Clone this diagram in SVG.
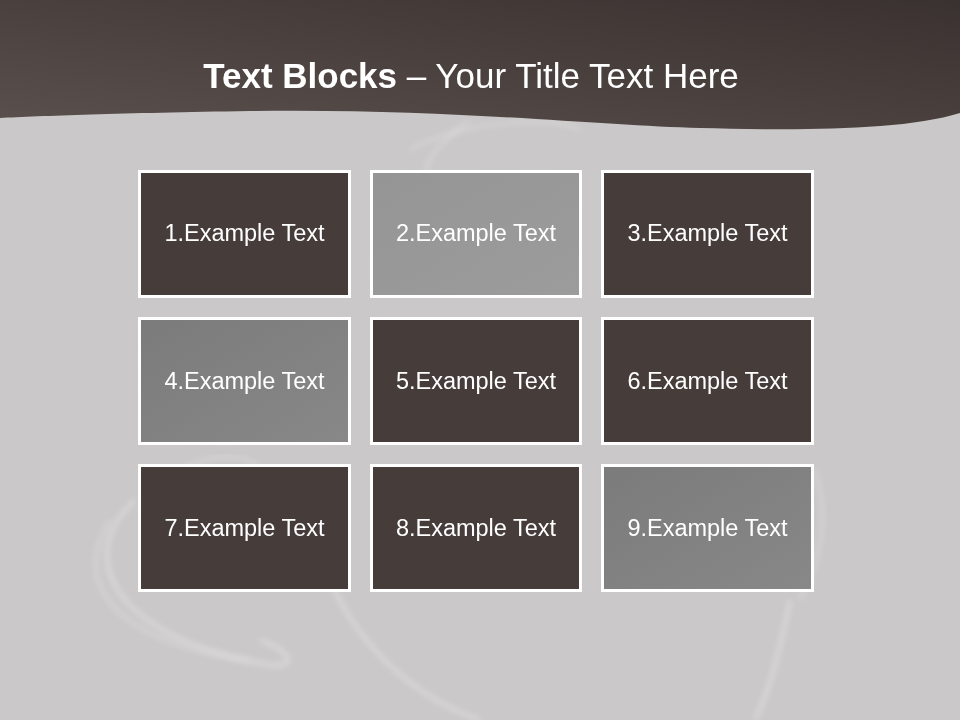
<svg xmlns="http://www.w3.org/2000/svg" width="960" height="720" viewBox="0 0 960 720">
  <style>
    .box { stroke: #ffffff; stroke-width: 3; }
    .dark { fill: #463d3b; }
    .lbl { font-family: "Liberation Sans", Arial, sans-serif; font-size: 23.5px; fill: #ffffff; text-anchor: middle; }
    .title { font-family: "Liberation Sans", Arial, sans-serif; font-size: 35px; fill: #ffffff; text-anchor: middle; }
    .swirl { fill: none; stroke: #ffffff; filter: url(#blur); }
  </style>
  <defs>
    <linearGradient id="hdr" x1="0" y1="1" x2="1" y2="0">
      <stop offset="0" stop-color="#5a504d"/>
      <stop offset="1" stop-color="#3a3230"/>
    </linearGradient>
    <linearGradient id="mid" x1="0" y1="0" x2="1" y2="1">
      <stop offset="0" stop-color="#7b7b7b"/>
      <stop offset="1" stop-color="#888888"/>
    </linearGradient>
    <linearGradient id="light" x1="0" y1="0" x2="1" y2="1">
      <stop offset="0" stop-color="#959595"/>
      <stop offset="1" stop-color="#9c9c9c"/>
    </linearGradient>
    <filter id="blur" x="-20%" y="-20%" width="140%" height="140%">
      <feGaussianBlur stdDeviation="3"/>
    </filter>
  </defs>

  <rect x="0" y="0" width="960" height="720" fill="#cac8c9"/>

  <g id="swirls" opacity="0.45">
    <path class="swirl" stroke-width="3" d="M135,500 C70,560 120,640 270,665 C300,668 290,650 260,640"/>
    <path class="swirl" stroke-width="2" d="M110,520 C60,600 150,650 250,660"/>
    <path class="swirl" stroke-width="3" d="M330,580 C360,650 420,700 480,720"/>
    <path class="swirl" stroke-width="2" d="M410,150 C460,120 560,115 580,130"/>
    <path class="swirl" stroke-width="2" d="M470,120 C430,150 420,170 430,175"/>
    <path class="swirl" stroke-width="3" d="M790,600 C780,650 770,690 755,720"/>
    <path class="swirl" stroke-width="2" d="M815,470 C830,520 820,560 800,600"/>
    <path class="swirl" stroke-width="2" d="M180,470 C220,450 250,455 260,470"/>
  </g>

  <g id="header">
    <path d="M0,0 H960 V113 C900,132 780,130 700,128 C600,126 450,108 250,111 C120,113 40,116 0,118 Z" fill="url(#hdr)"/>
    <text class="title" x="471" y="88"><tspan font-weight="bold">Text Blocks</tspan> – Your Title Text Here</text>
  </g>

  <g id="node1">
    <rect class="box dark" x="139.5" y="171.5" width="210" height="125"/>
    <text class="lbl" x="244.5" y="241">1.Example Text</text>
  </g>
  <g id="node2">
    <rect class="box" fill="url(#light)" x="371.5" y="171.5" width="209" height="125"/>
    <text class="lbl" x="476" y="241">2.Example Text</text>
  </g>
  <g id="node3">
    <rect class="box dark" x="602.5" y="171.5" width="210" height="125"/>
    <text class="lbl" x="707.5" y="241">3.Example Text</text>
  </g>

  <g id="node4">
    <rect class="box" fill="url(#mid)" x="139.5" y="318.5" width="210" height="125"/>
    <text class="lbl" x="244.5" y="389">4.Example Text</text>
  </g>
  <g id="node5">
    <rect class="box dark" x="371.5" y="318.5" width="209" height="125"/>
    <text class="lbl" x="476" y="389">5.Example Text</text>
  </g>
  <g id="node6">
    <rect class="box dark" x="602.5" y="318.5" width="210" height="125"/>
    <text class="lbl" x="707.5" y="389">6.Example Text</text>
  </g>

  <g id="node7">
    <rect class="box dark" x="139.5" y="465.5" width="210" height="125"/>
    <text class="lbl" x="244.5" y="536">7.Example Text</text>
  </g>
  <g id="node8">
    <rect class="box dark" x="371.5" y="465.5" width="209" height="125"/>
    <text class="lbl" x="476" y="536">8.Example Text</text>
  </g>
  <g id="node9">
    <rect class="box" fill="url(#mid)" x="602.5" y="465.5" width="210" height="125"/>
    <text class="lbl" x="707.5" y="536">9.Example Text</text>
  </g>

  <g id="connectors"/>
</svg>
